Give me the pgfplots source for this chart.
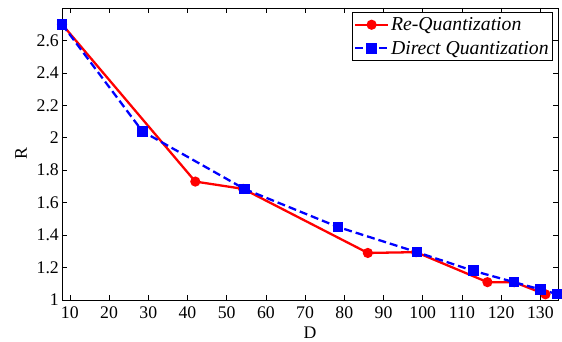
\documentclass[border=0pt]{standalone}
\usepackage{pgfplots}
\pgfplotsset{compat=1.18}
\usepackage{fontspec}
\setmainfont{Liberation Serif}
\begin{document}
\begin{tikzpicture}
\begin{axis}[
  at={(62bp,42bp)}, anchor=south west,
  scale only axis,
  width=496bp, height=292bp,
  xmin=8, xmax=134.5, ymin=1, ymax=2.8,
  xtick={10,20,...,130},
  ytick={1,1.2,1.4,1.6,1.8,2,2.2,2.4,2.6},
  yticklabels={1,1.2,1.4,1.6,1.8,2,2.2,2.4,2.6},
  tick align=inside,
  major tick length=5bp,
  tick style={black, line width=0.6pt},
  axis line style={line width=0.8pt},
  /pgf/number format/assume math mode=true,
  tick label style={font=\fontsize{17.8}{19}\selectfont},
  xticklabel style={yshift=-3bp},
  yticklabel style={inner xsep=3bp},
  xlabel={D}, ylabel={R},
  label style={font=\fontsize{17.8}{19}\selectfont},
  xlabel style={at={(axis description cs:0.5,-0.113)}, anchor=center},
  ylabel style={at={(axis description cs:-0.0827,0.5)}, anchor=center, rotate=0},
  legend style={at={(0.99,0.986)}, anchor=north east, draw=black, line width=0.8pt,
    font=\fontsize{19.8}{22}\selectfont\itshape, inner xsep=2pt, inner ysep=3pt, row sep=5pt},
  legend image code/.code={\draw[mark repeat=2,mark phase=2,#1] plot coordinates {(0cm,0cm) (0.575cm,0cm) (1.15cm,0cm)};},
  legend cell align=left,
  every axis plot/.append style={line width=2.3pt},
]
\addplot[red, mark=*, mark size=3.9pt, mark options={solid}] coordinates {
 (8,2.70) (42,1.73) (54.2,1.685) (86,1.29) (98.3,1.295) (116.5,1.11) (123.3,1.11) (131.3,1.035)
};
\addlegendentry{Re-Quantization}
\addplot[blue, dashed, dash pattern=on 8pt off 4pt, mark=square*, mark size=4.2pt, mark options={solid}] coordinates {
 (8,2.70) (28.5,2.04) (54.5,1.685) (78.4,1.45) (98.5,1.295) (112.9,1.18) (123.3,1.11) (130,1.065) (134.2,1.037)
};
\addlegendentry{Direct Quantization}
\end{axis}
\pgfresetboundingbox
\path[use as bounding box] (0,0) rectangle (562bp,342bp);
\end{tikzpicture}
\end{document}
